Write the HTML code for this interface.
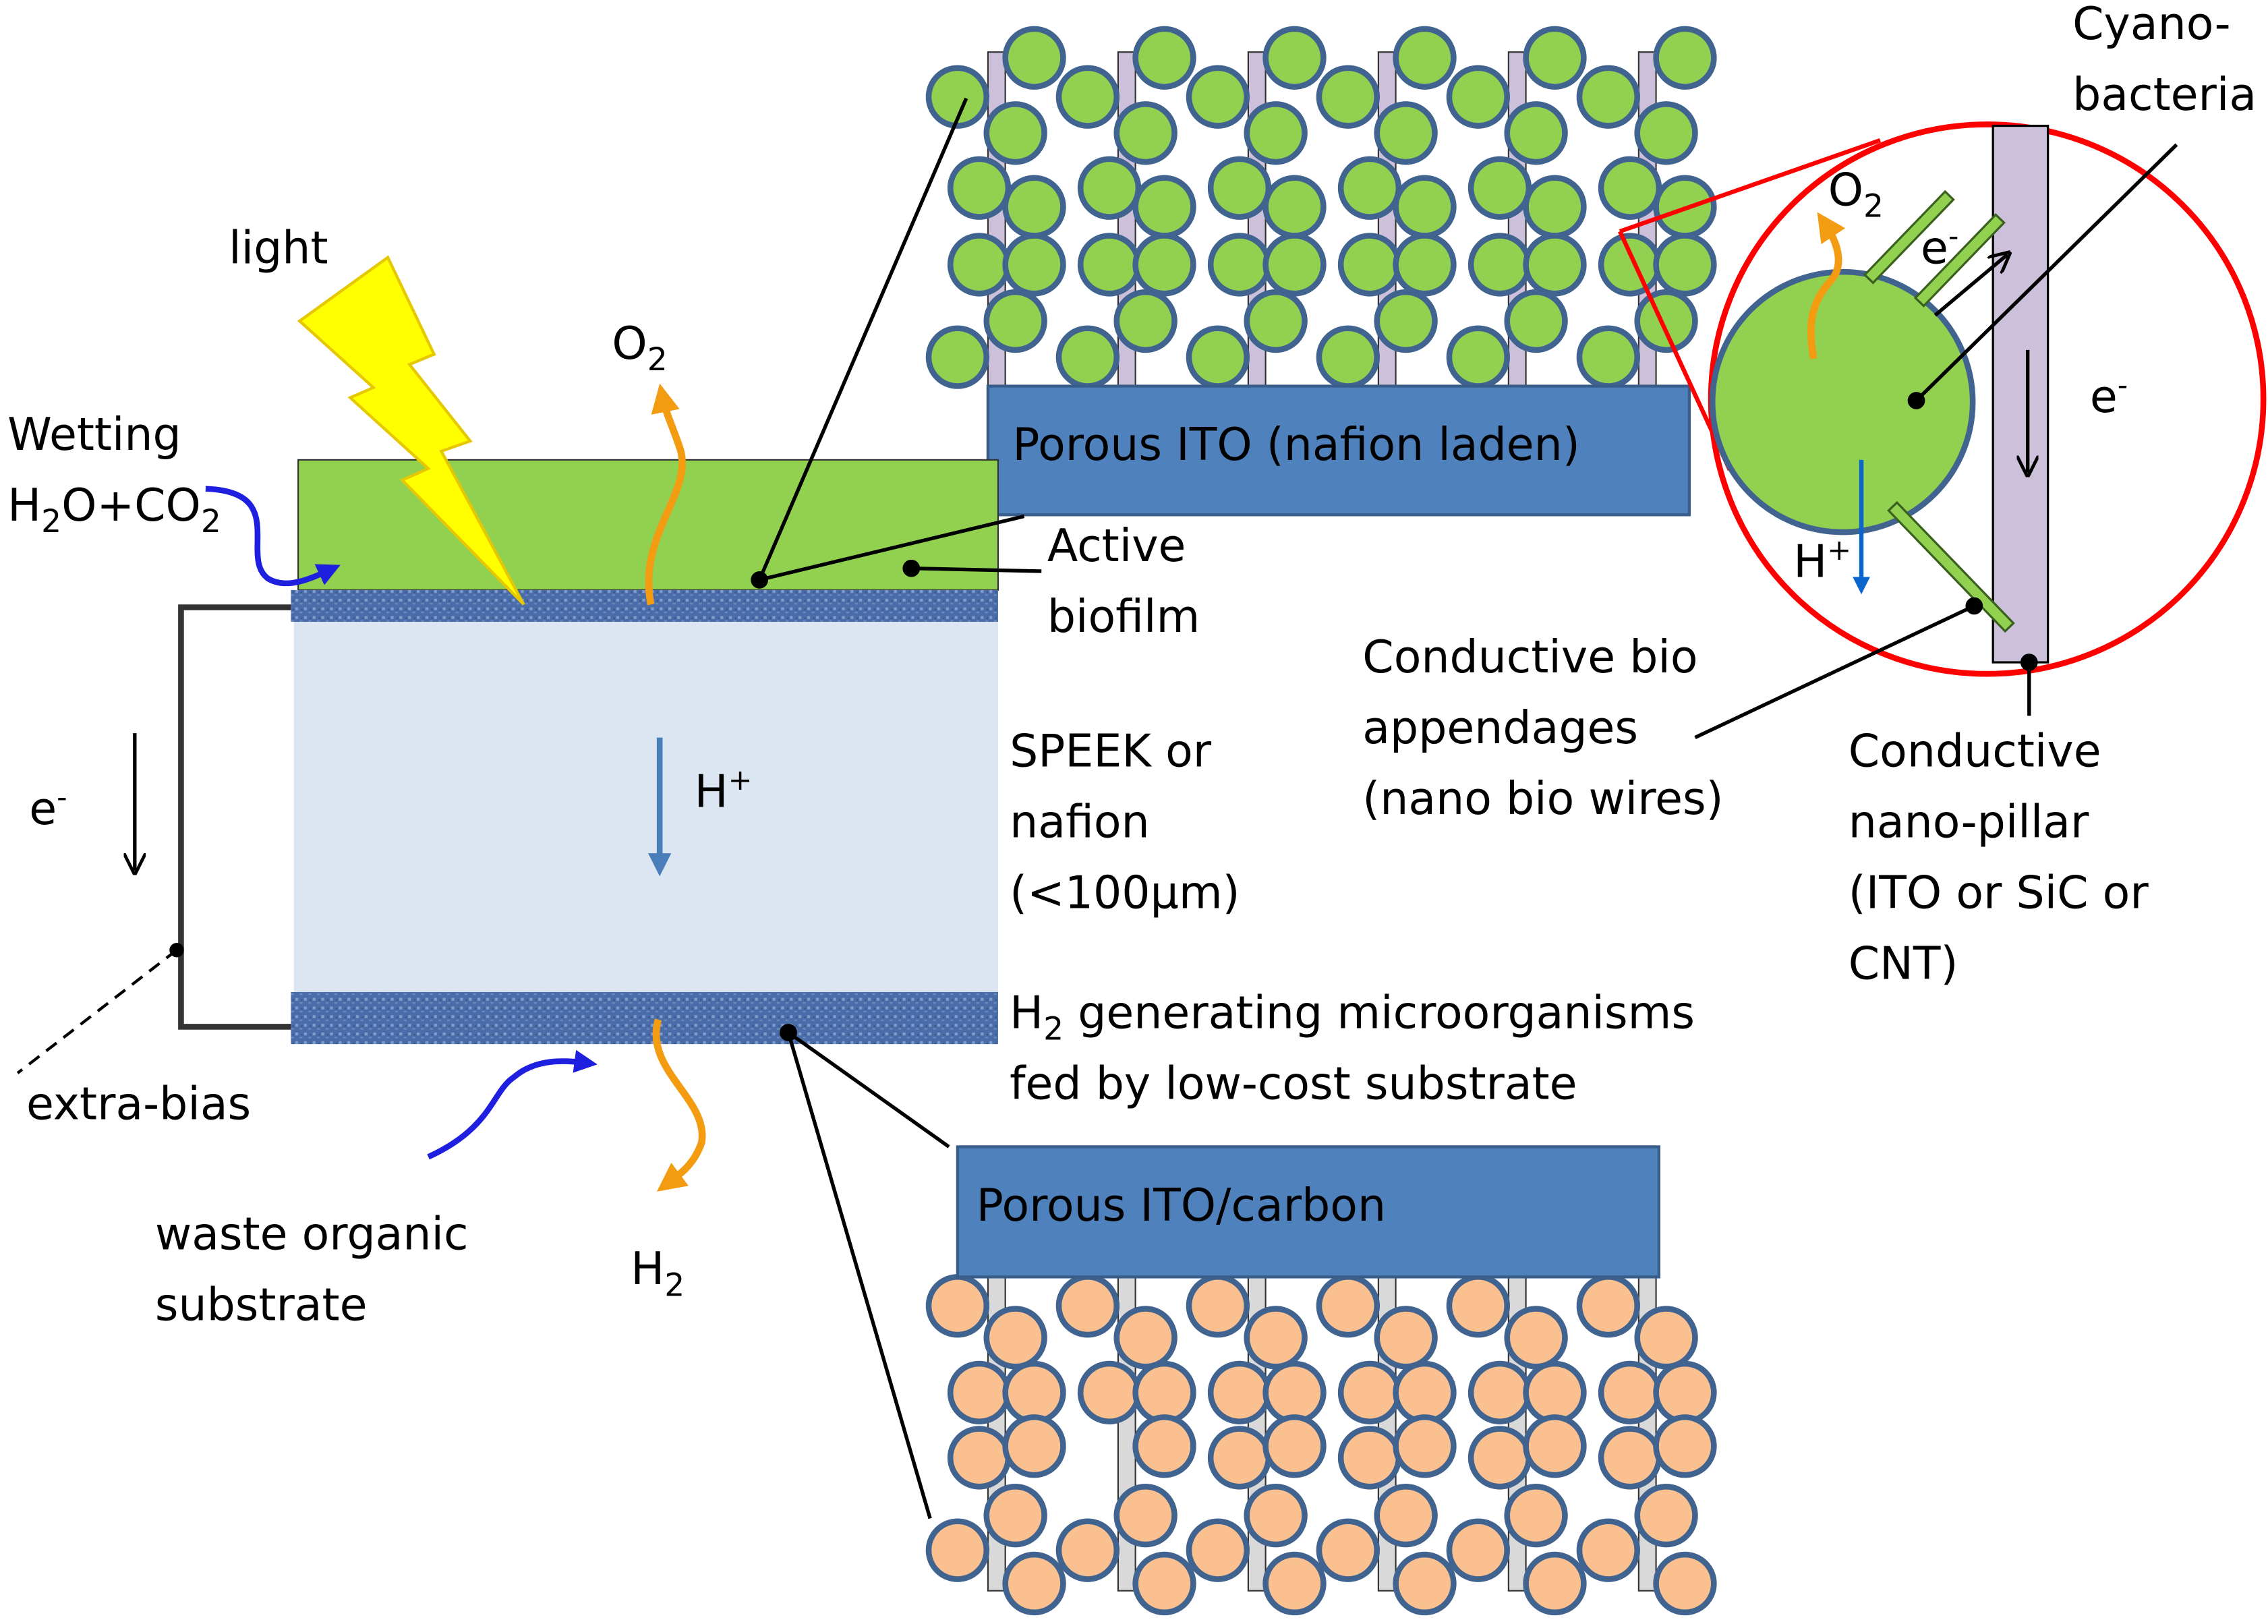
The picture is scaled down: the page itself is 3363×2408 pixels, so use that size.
<!DOCTYPE html>
<html><head><meta charset="utf-8"><style>
html,body{margin:0;padding:0;background:#fff}
svg{display:block}
text{font-family:"DejaVu Sans","Liberation Sans",sans-serif;font-size:31px;fill:#000}
</style></head><body>
<svg width="3363" height="2408" viewBox="0 0 1568 1123" xmlns="http://www.w3.org/2000/svg">
<defs>
<pattern id="tex" width="6" height="6" patternUnits="userSpaceOnUse">
<rect width="6" height="6" fill="#4a6ca8"/>
<rect x="0" y="0" width="2" height="2" fill="#7f9ccc"/>
<rect x="3" y="3" width="2" height="1" fill="#6d8cc0"/>
<rect x="4" y="1" width="1" height="1" fill="#34538a"/>
</pattern>
<marker id="ao" viewBox="0 0 10 10" refX="5" refY="5" markerWidth="4" markerHeight="4" orient="auto"><path d="M0,0L10,5L0,10z" fill="#f39c12"/></marker>
<marker id="ab" viewBox="0 0 10 10" refX="5" refY="5" markerWidth="4" markerHeight="4" orient="auto"><path d="M0,0L10,5L0,10z" fill="#1f1fe0"/></marker>
<marker id="abl" viewBox="0 0 10 10" refX="5" refY="5" markerWidth="4" markerHeight="4" orient="auto"><path d="M0,0L10,5L0,10z" fill="#4a7ebb"/></marker>
<marker id="abl2" viewBox="0 0 10 10" refX="5" refY="5" markerWidth="4" markerHeight="4" orient="auto"><path d="M0,0L10,5L0,10z" fill="#0a66cc"/></marker>
<marker id="ak" viewBox="0 0 10 10" refX="8" refY="5" markerWidth="6" markerHeight="6" orient="auto"><path d="M0,0L10,5L0,10" fill="none" stroke="#000" stroke-width="1.5"/></marker>
</defs>

<g fill="#ccc0da" stroke="#333" stroke-width="1">
<rect x="683" y="36" width="12" height="232"/><rect x="773" y="36" width="12" height="232"/><rect x="863" y="36" width="12" height="232"/><rect x="953" y="36" width="12" height="232"/><rect x="1043" y="36" width="12" height="232"/><rect x="1133" y="36" width="12" height="232"/>
</g>
<g fill="#92d050" stroke="#41638f" stroke-width="4">
<circle cx="662" cy="67" r="20"/><circle cx="715" cy="40" r="20"/><circle cx="702" cy="92" r="20"/><circle cx="752" cy="67" r="20"/><circle cx="677" cy="130" r="20"/><circle cx="715" cy="143" r="20"/><circle cx="767" cy="130" r="20"/><circle cx="677" cy="183" r="20"/><circle cx="715" cy="183" r="20"/><circle cx="767" cy="183" r="20"/><circle cx="702" cy="222" r="20"/><circle cx="662" cy="247" r="20"/><circle cx="752" cy="247" r="20"/>
<circle cx="805" cy="40" r="20"/><circle cx="792" cy="92" r="20"/><circle cx="842" cy="67" r="20"/><circle cx="805" cy="143" r="20"/><circle cx="857" cy="130" r="20"/><circle cx="805" cy="183" r="20"/><circle cx="857" cy="183" r="20"/><circle cx="792" cy="222" r="20"/><circle cx="842" cy="247" r="20"/>
<circle cx="895" cy="40" r="20"/><circle cx="882" cy="92" r="20"/><circle cx="932" cy="67" r="20"/><circle cx="895" cy="143" r="20"/><circle cx="947" cy="130" r="20"/><circle cx="895" cy="183" r="20"/><circle cx="947" cy="183" r="20"/><circle cx="882" cy="222" r="20"/><circle cx="932" cy="247" r="20"/>
<circle cx="985" cy="40" r="20"/><circle cx="972" cy="92" r="20"/><circle cx="1022" cy="67" r="20"/><circle cx="985" cy="143" r="20"/><circle cx="1037" cy="130" r="20"/><circle cx="985" cy="183" r="20"/><circle cx="1037" cy="183" r="20"/><circle cx="972" cy="222" r="20"/><circle cx="1022" cy="247" r="20"/>
<circle cx="1075" cy="40" r="20"/><circle cx="1062" cy="92" r="20"/><circle cx="1112" cy="67" r="20"/><circle cx="1075" cy="143" r="20"/><circle cx="1127" cy="130" r="20"/><circle cx="1075" cy="183" r="20"/><circle cx="1127" cy="183" r="20"/><circle cx="1062" cy="222" r="20"/><circle cx="1112" cy="247" r="20"/>
<circle cx="1165" cy="40" r="20"/><circle cx="1152" cy="92" r="20"/><circle cx="1165" cy="143" r="20"/><circle cx="1165" cy="183" r="20"/><circle cx="1152" cy="222" r="20"/>
</g>
<rect x="683" y="267" width="485" height="89" fill="#4f81bd" stroke="#385d8a" stroke-width="2"/>
<text x="700" y="318">Porous ITO (nafion laden)</text>

<g fill="#d9d9d9" stroke="#333" stroke-width="1">
<rect x="683" y="882" width="12" height="218"/><rect x="773" y="882" width="12" height="218"/><rect x="863" y="882" width="12" height="218"/><rect x="953" y="882" width="12" height="218"/><rect x="1043" y="882" width="12" height="218"/><rect x="1133" y="882" width="12" height="218"/>
</g>
<g fill="#fac090" stroke="#41638f" stroke-width="4">
<circle cx="662" cy="903" r="20"/><circle cx="702" cy="925" r="20"/><circle cx="752" cy="903" r="20"/><circle cx="677" cy="963" r="20"/><circle cx="715" cy="963" r="20"/><circle cx="767" cy="963" r="20"/><circle cx="677" cy="1008" r="20"/><circle cx="715" cy="1000" r="20"/><circle cx="702" cy="1048" r="20"/><circle cx="662" cy="1072" r="20"/><circle cx="715" cy="1095" r="20"/><circle cx="752" cy="1072" r="20"/>
<circle cx="792" cy="925" r="20"/><circle cx="842" cy="903" r="20"/><circle cx="805" cy="963" r="20"/><circle cx="857" cy="963" r="20"/><circle cx="805" cy="1000" r="20"/><circle cx="857" cy="1008" r="20"/><circle cx="792" cy="1048" r="20"/><circle cx="805" cy="1095" r="20"/><circle cx="842" cy="1072" r="20"/>
<circle cx="882" cy="925" r="20"/><circle cx="932" cy="903" r="20"/><circle cx="895" cy="963" r="20"/><circle cx="947" cy="963" r="20"/><circle cx="895" cy="1000" r="20"/><circle cx="947" cy="1008" r="20"/><circle cx="882" cy="1048" r="20"/><circle cx="895" cy="1095" r="20"/><circle cx="932" cy="1072" r="20"/>
<circle cx="972" cy="925" r="20"/><circle cx="1022" cy="903" r="20"/><circle cx="985" cy="963" r="20"/><circle cx="1037" cy="963" r="20"/><circle cx="985" cy="1000" r="20"/><circle cx="1037" cy="1008" r="20"/><circle cx="972" cy="1048" r="20"/><circle cx="985" cy="1095" r="20"/><circle cx="1022" cy="1072" r="20"/>
<circle cx="1062" cy="925" r="20"/><circle cx="1112" cy="903" r="20"/><circle cx="1075" cy="963" r="20"/><circle cx="1127" cy="963" r="20"/><circle cx="1075" cy="1000" r="20"/><circle cx="1127" cy="1008" r="20"/><circle cx="1062" cy="1048" r="20"/><circle cx="1075" cy="1095" r="20"/><circle cx="1112" cy="1072" r="20"/>
<circle cx="1152" cy="925" r="20"/><circle cx="1165" cy="963" r="20"/><circle cx="1165" cy="1000" r="20"/><circle cx="1152" cy="1048" r="20"/><circle cx="1165" cy="1095" r="20"/>
</g>
<rect x="662" y="793" width="485" height="90" fill="#4f81bd" stroke="#385d8a" stroke-width="2"/>
<text x="675" y="844">Porous ITO/carbon</text>

<rect x="203" y="430" width="487" height="258" fill="#dce6f2"/>
<rect x="206" y="318" width="484" height="90" fill="#92d050" stroke="#333" stroke-width="1"/>
<rect x="201" y="408" width="489" height="22" fill="url(#tex)"/>
<rect x="201" y="686" width="489" height="36" fill="url(#tex)"/>
<path d="M201,420 H125 V710 H201" fill="none" stroke="#333" stroke-width="4"/>
<circle cx="122" cy="657" r="5" fill="#000"/>
<line x1="122" y1="657" x2="12" y2="742" stroke="#000" stroke-width="2" stroke-dasharray="9,6"/>
<line x1="93" y1="507" x2="93" y2="602" stroke="#000" stroke-width="2.5" marker-end="url(#ak)"/>
<text x="20" y="570">e<tspan font-size="20" dy="-12">-</tspan></text>
<line x1="456" y1="510" x2="456" y2="598" stroke="#4a7ebb" stroke-width="4" marker-end="url(#abl)"/>
<text x="480" y="558">H<tspan font-size="20" dy="-12">+</tspan></text>

<polygon points="207,222 268,178 300,245 283,252 325,305 305,312 362,418 278,332 296,324 242,275 258,268" fill="#ffff00" stroke="#e6c800" stroke-width="2"/>
<text x="158" y="182">light</text>

<path d="M450,418 C440,370 480,340 470,310 C465,295 460,285 458,275" fill="none" stroke="#f39c12" stroke-width="5" marker-end="url(#ao)"/>
<text x="423" y="248">O<tspan font-size="22" dy="8">2</tspan></text>
<path d="M142,338 C200,340 165,385 185,400 C198,408 215,400 228,394" fill="none" stroke="#1f1fe0" stroke-width="4" marker-end="url(#ab)"/>
<text x="5" y="311">Wetting</text>
<text x="5" y="360">H<tspan font-size="22" dy="8">2</tspan><tspan dy="-8">O+CO</tspan><tspan font-size="22" dy="8">2</tspan></text>
<path d="M296,800 C340,780 340,755 355,745 C370,732 390,733 405,735" fill="none" stroke="#1f1fe0" stroke-width="4" marker-end="url(#ab)"/>
<path d="M455,705 C445,740 490,760 485,790 C480,805 470,812 462,818" fill="none" stroke="#f39c12" stroke-width="5" marker-end="url(#ao)"/>
<text x="436" y="888">H<tspan font-size="22" dy="8">2</tspan></text>
<text x="18" y="774">extra-bias</text>
<text x="107" y="864">waste organic</text>
<text x="107" y="913">substrate</text>

<circle cx="525" cy="401" r="6" fill="#000"/>
<line x1="525" y1="401" x2="668" y2="68" stroke="#000" stroke-width="2.5"/>
<line x1="525" y1="401" x2="708" y2="357" stroke="#000" stroke-width="2.5"/>
<circle cx="630" cy="393" r="6" fill="#000"/>
<line x1="630" y1="393" x2="720" y2="395" stroke="#000" stroke-width="2.5"/>
<text x="724" y="388">Active</text>
<text x="724" y="437">biofilm</text>
<circle cx="545" cy="714" r="6" fill="#000"/>
<line x1="545" y1="714" x2="656" y2="793" stroke="#000" stroke-width="2.5"/>
<line x1="545" y1="714" x2="643" y2="1050" stroke="#000" stroke-width="2.5"/>
<text x="698" y="530">SPEEK or</text>
<text x="698" y="579">nafion</text>
<text x="698" y="628">(&lt;100μm)</text>
<text x="698" y="711">H<tspan font-size="22" dy="8">2</tspan><tspan dy="-8"> generating microorganisms</tspan></text>
<text x="698" y="760">fed by low-cost substrate</text>

<line x1="1120" y1="160" x2="1300" y2="97" stroke="#ff0000" stroke-width="3"/>
<line x1="1120" y1="160" x2="1196" y2="325" stroke="#ff0000" stroke-width="3"/>
<ellipse cx="1374" cy="276" rx="191" ry="190" fill="none" stroke="#ff0000" stroke-width="4"/>
<rect x="1378" y="87" width="38" height="371" fill="#ccc0da" stroke="#000" stroke-width="1.5"/>
<circle cx="1274" cy="278" r="90" fill="#92d050" stroke="#41638f" stroke-width="4"/>
<g fill="#92d050" stroke="#3a6020" stroke-width="1.5">
<rect x="-4" y="-40" width="8" height="80" transform="translate(1320,164) rotate(44)"/>
<rect x="-4" y="-40" width="8" height="80" transform="translate(1355,180) rotate(44)"/>
<rect x="-4" y="-58" width="8" height="116" transform="translate(1349,392) rotate(-44)"/>
</g>
<line x1="1338" y1="218" x2="1388" y2="176" stroke="#000" stroke-width="2.5" marker-end="url(#ak)"/>
<line x1="1402" y1="242" x2="1402" y2="327" stroke="#000" stroke-width="2.5" marker-end="url(#ak)"/>
<path d="M1254,248 C1250,225 1252,210 1265,195 C1275,185 1272,170 1262,155" fill="none" stroke="#f39c12" stroke-width="5" marker-end="url(#ao)"/>
<line x1="1287" y1="318" x2="1287" y2="405" stroke="#0a66cc" stroke-width="3" marker-end="url(#abl2)"/>
<text x="1264" y="142">O<tspan font-size="22" dy="8">2</tspan></text>
<text x="1328" y="182">e<tspan font-size="20" dy="-12">-</tspan></text>
<text x="1445" y="285">e<tspan font-size="20" dy="-12">-</tspan></text>
<text x="1240" y="399">H<tspan font-size="20" dy="-12">+</tspan></text>
<circle cx="1325" cy="277" r="6" fill="#000"/>
<line x1="1325" y1="277" x2="1505" y2="100" stroke="#000" stroke-width="2.5"/>
<text x="1433" y="27">Cyano-</text>
<text x="1433" y="76">bacteria</text>
<circle cx="1365" cy="419" r="6" fill="#000"/>
<line x1="1365" y1="419" x2="1172" y2="510" stroke="#000" stroke-width="2.5"/>
<circle cx="1403" cy="458" r="6" fill="#000"/>
<line x1="1403" y1="458" x2="1403" y2="495" stroke="#000" stroke-width="2.5"/>
<text x="942" y="465">Conductive bio</text>
<text x="942" y="514">appendages</text>
<text x="942" y="563">(nano bio wires)</text>
<text x="1278" y="530">Conductive</text>
<text x="1278" y="579">nano-pillar</text>
<text x="1278" y="628">(ITO or SiC or</text>
<text x="1278" y="677">CNT)</text>
</svg>
</body></html>
